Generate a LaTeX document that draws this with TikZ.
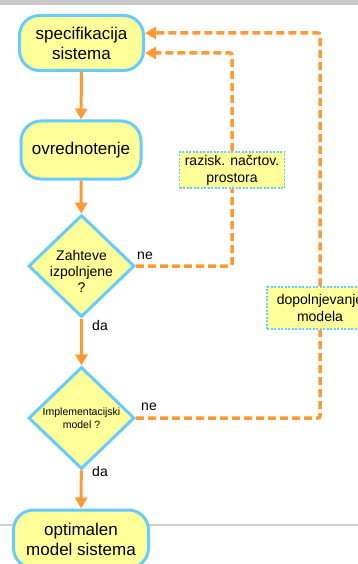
\documentclass[tikz,border=0pt]{standalone}
\usepackage{fontspec}
\setmainfont{Liberation Sans}
\usetikzlibrary{shapes.geometric,arrows.meta}
\definecolor{bordblue}{HTML}{66CCFF}
\definecolor{fillyel}{HTML}{FFFF99}
\definecolor{flowor}{HTML}{FF9933}
\definecolor{bargray}{HTML}{C8C8C8}
\definecolor{linegray}{HTML}{D0D0D0}
\tikzset{
  term/.style={rectangle, rounded corners=20pt, draw=bordblue, fill=fillyel, line width=3pt, align=center, inner sep=0pt, font=\fontsize{17}{20}\selectfont},
  decide/.style={diamond, draw=bordblue, fill=fillyel, line width=3pt, align=center, inner sep=0pt, minimum width=106pt, minimum height=102pt},
  note/.style={rectangle, draw=bordblue, fill=fillyel, line width=1.5pt, dash pattern=on 2pt off 1.5pt, align=center, inner sep=0pt, font=\fontsize{14}{17}\selectfont},
  flow/.style={draw=flowor, line width=3pt, -{Triangle[length=11pt,width=12pt]}},
  backline/.style={draw=flowor, line width=3.5pt, dash pattern=on 8pt off 4pt, rounded corners=2pt},
  back/.style={backline, -{Triangle[length=11pt,width=12pt]}},
  lbl/.style={font=\fontsize{14}{16}\selectfont, inner sep=0pt}
}
\begin{document}
\begin{tikzpicture}[x=1pt,y=-1pt]
\useasboundingbox (0,0) rectangle (358,564);
\clip (0,0) rectangle (358,564);
\fill[bargray] (0,0) rectangle (358,5);
\draw[linegray, line width=1.5pt] (0,525) -- (358,525);

\node[term, minimum width=124pt, minimum height=55pt] (n1) at (81.5,43) {specifikacija\\sistema};
\node[term, minimum width=120pt, minimum height=58pt] (n2) at (81,150) {ovrednotenje};
\node[decide, label={[align=center, inner sep=0pt, yshift=-5pt, font=\fontsize{14}{16}\selectfont]center:Zahteve\\izpolnjene\\?}] (d1) at (81.5,266) {};
\node[decide, font=\fontsize{10.5}{13}\selectfont] (d2) at (81.5,418) {Implementacijski\\model ?};
\node[term, minimum width=135pt, minimum height=58pt] (n5) at (81,539) {optimalen\\model sistema};

\node[note, minimum width=105pt, minimum height=36pt] (b1) at (232,170) {razisk. načrtov.\\prostora};
\node[note, minimum width=106pt, minimum height=42pt] (b2) at (320,308) {dopolnjevanje\\modela};

\coordinate (t1) at (232,53);
\coordinate (t2) at (320,33);

\draw[flow] (n1) -- (n2);
\draw[flow] (n2) -- (d1);
\draw[flow] (d1) -- (d2);
\draw[flow] (d2) -- (n5);

\draw[backline] (d1.east) -| (b1.south);
\draw[back] (b1.north) |- (n1.east |- t1);
\draw[backline] (d2.east) -| (b2.south);
\draw[back] (b2.north) |- (n1.east |- t2);

\node[lbl] (ne1) at (145,256) {ne};
\node[lbl] (da1) at (100,325) {da};
\node[lbl] (ne2) at (149,407) {ne};
\node[lbl] (da2) at (100,471) {da};
\end{tikzpicture}
\end{document}
